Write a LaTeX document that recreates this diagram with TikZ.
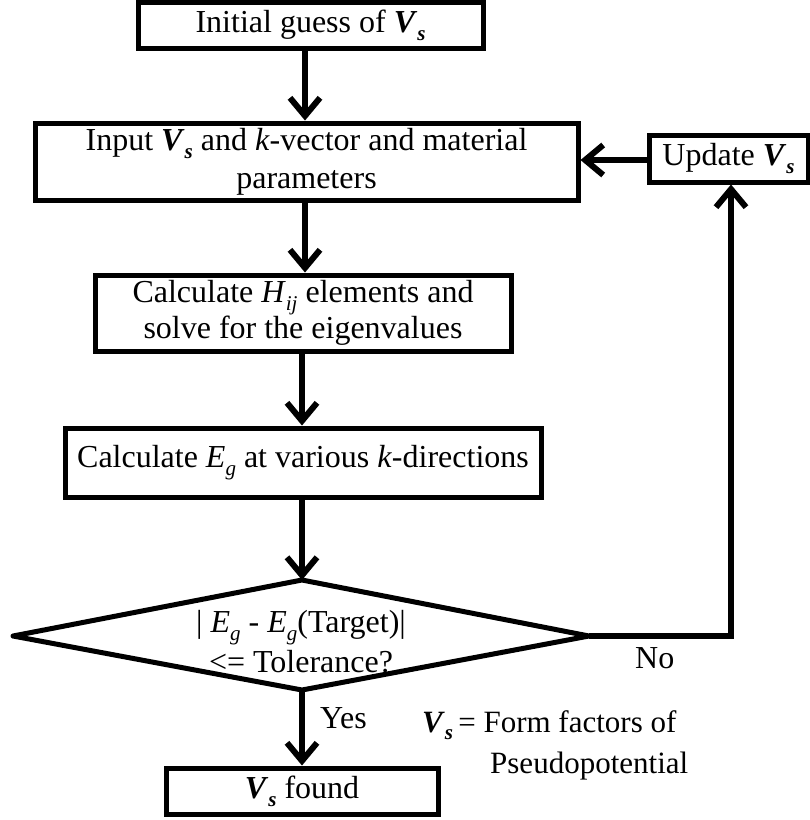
\documentclass[tikz,border=0pt]{standalone}
\usepackage{fontspec}
\setmainfont{Liberation Serif}
\usetikzlibrary{arrows.meta}
\newcommand{\mysub}[1]{\raisebox{-0.25em}{\fontsize{21}{21}\selectfont #1}}
\newcommand{\Vs}{\textbf{\textit{V}}\mysub{\textbf{\textit{s}}}}
\newcommand{\Eg}{\textit{E}\mysub{\textit{g}}}
\tikzset{
  stepbox/.style={draw, line width=5pt, rectangle, inner sep=0pt, align=center,
    font=\fontsize{32}{38}\selectfont},
  arr/.style={line width=6pt, -{Straight Barb[length=18pt,width=30pt,line width=6pt]}},
  conn/.style={line width=6pt},
  lbl/.style={inner sep=0pt, font=\fontsize{32}{38}\selectfont}
}
\begin{document}
\begin{tikzpicture}[x=1pt,y=-1pt]
\useasboundingbox (0,0) rectangle (810,820);
\node[stepbox, minimum width=345, minimum height=46] (b1) at (310.5,25) {Initial guess of \Vs};
\node[stepbox, minimum width=543, minimum height=77] (b2) at (306.5,161.5)
  {Input \Vs\ and \textit{k}-vector and material\\parameters};
\node[stepbox, minimum width=159, minimum height=47] (up) at (728.5,158.5) {Update \Vs};
\node[stepbox, minimum width=416, minimum height=76, font=\fontsize{32}{36}\selectfont] (b3) at (303,313)
  {Calculate \textit{H}\mysub{\textit{ij}} elements and\\solve for the eigenvalues};
\node[stepbox, minimum width=476, minimum height=69] (b4) at (303,462.5)
  {Calculate \Eg\ at various \textit{k}-directions};
% decision diamond
\coordinate (dt) at (302,580);
\coordinate (dr) at (589,636);
\coordinate (db) at (302,690);
\coordinate (dl) at (13,636);
\draw[line width=5pt, line join=round] (dt) -- (dr) -- (db) -- (dl) -- cycle;
\node[inner sep=0pt, align=center, font=\fontsize{32}{40}\selectfont] (dec) at (301,642)
  {\textbar\ \Eg\ - \Eg(Target)\textbar\\{<}= Tolerance?};
\node[stepbox, minimum width=272, minimum height=46] (b5) at (302,791) {\Vs\ found};
\coordinate (ax1) at (305,0);
\coordinate (ax) at (302,0);
\coordinate (ux) at (731,0);
\draw[arr] (b1.south -| ax1) -- (b2.north -| ax1);
\draw[arr] (up.west |- 0,160) -- (b2.east |- 0,160);
\draw[arr] (b2.south -| ax1) -- (b3.north -| ax1);
\draw[arr] (b3.south -| ax) -- (b4.north -| ax);
\draw[arr] (b4.south -| ax) -- (dt);
\draw[arr] (db) -- (b5.north);
\draw[conn, line join=miter] (dr) -- (dr -| ux) -- (ux |- 0,420);
\draw[arr] (ux |- 0,420) -- (up.south -| ux);
\node[lbl, anchor=base west] (no) at (635,668) {No};
\node[lbl, anchor=base west] (yes) at (320,728) {Yes};
\node[lbl, anchor=base west, font=\fontsize{31}{38}\selectfont] (note1) at (422,732) {\Vs\,= Form factors of};
\node[lbl, anchor=base west, font=\fontsize{31}{38}\selectfont] (note2) at (490,773) {Pseudopotential};
\end{tikzpicture}
\end{document}
